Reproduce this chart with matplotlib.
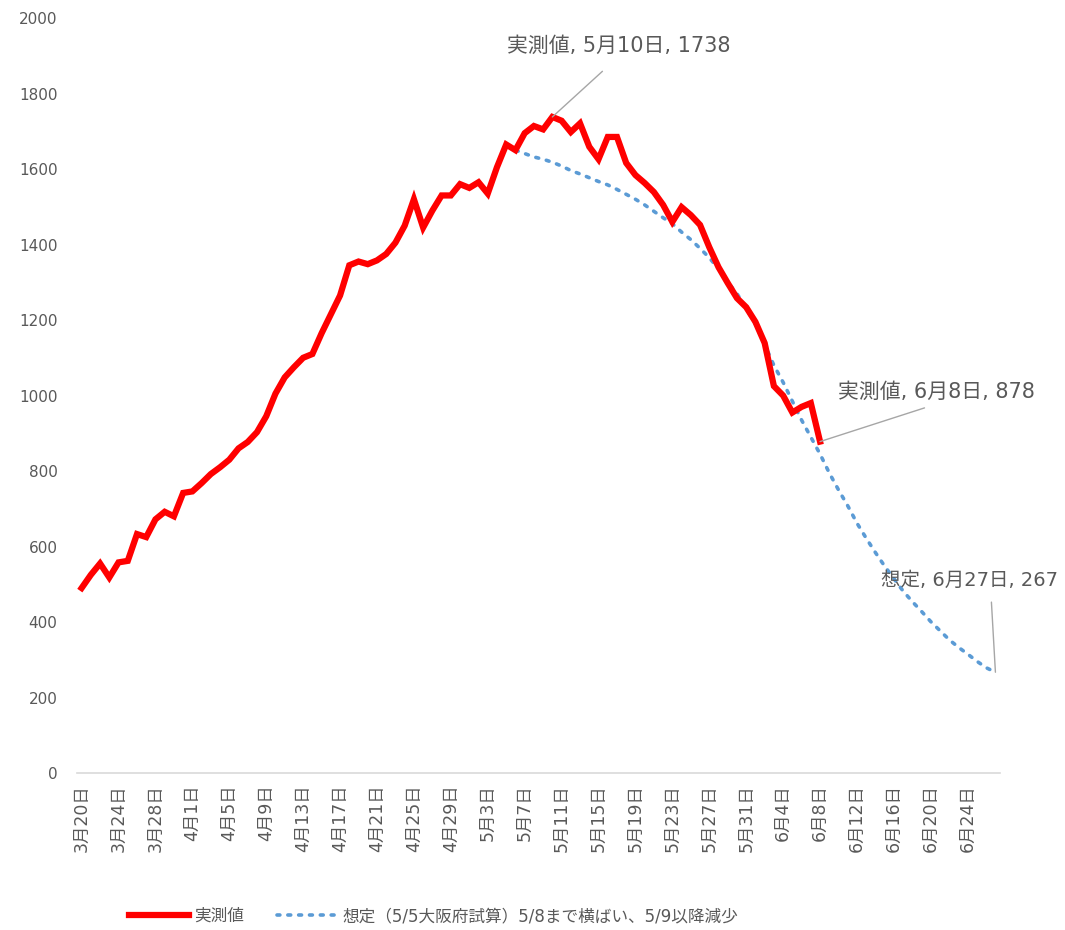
import matplotlib
matplotlib.use("Agg")
import matplotlib.pyplot as plt
import pandas as pd

plt.rcParams['font.family'] = ['DejaVu Sans', 'Noto Sans CJK JP']

# 日付（3/20〜6/27）
dates = pd.date_range('2020-03-20', '2020-06-27', freq='D')
date_labels = [f"{d.month}月{d.day}日" for d in dates]

# 実測値 3/20〜6/8
actual = [490, 525, 555, 518, 558, 562, 633, 625, 672, 692,
          680, 742, 746, 768, 792, 810, 830, 860, 877, 903,
          945, 1005, 1048, 1075, 1100, 1110, 1165, 1215, 1265, 1345,
          1355, 1348, 1358, 1375, 1405, 1450, 1520, 1445, 1490, 1530,
          1530, 1560, 1550, 1565, 1535, 1605, 1665, 1650, 1695, 1714,
          1705, 1738, 1728, 1698, 1721, 1659, 1626, 1685, 1685, 1616,
          1584, 1563, 1539, 1505, 1460, 1499, 1478, 1452, 1393, 1340,
          1298, 1258, 1234, 1195, 1139, 1025, 1000, 955, 970, 980,
          878]

# 想定 5/6〜6/27
scenario_start = 47
scenario = [1650, 1641, 1632, 1626, 1618, 1608, 1596, 1587, 1577, 1567,
            1558, 1546, 1533, 1520, 1505, 1488, 1471, 1455, 1433, 1413,
            1390, 1365, 1336, 1300, 1270, 1230, 1190, 1135, 1080, 1035,
            985, 935, 890, 845, 795, 750, 708, 662, 622, 584,
            548, 515, 482, 454, 428, 401, 377, 353, 333, 315,
            296, 279, 267]

txt_color = '#595959'

fig = plt.figure(figsize=(10.65, 9.3), dpi=100)
ax = fig.add_axes([0.0723, 0.1688, 0.8667, 0.8118])

x_act = list(range(len(actual)))
x_sc = list(range(scenario_start, scenario_start + len(scenario)))

ax.plot(x_sc, scenario, color='#5b9bd5', lw=2.6, linestyle=(0, (0.8, 2.2)),
        dash_capstyle='round', label='想定（5/5大阪府試算）5/8まで横ばい、5/9以降減少', zorder=2)
ax.plot(x_act, actual, color='#ff0000', lw=4.5, solid_joinstyle='miter',
        label='実測値', zorder=3)

ax.set_xlim(-0.5, len(dates) - 0.5)
ax.set_ylim(0, 2000)
ax.set_yticks(range(0, 2001, 200))
ax.set_xticks(range(0, len(dates) - 3, 4))
ax.set_xticklabels(date_labels[0:len(dates) - 3:4], rotation=90)

for s in ['top', 'right', 'left']:
    ax.spines[s].set_visible(False)
ax.spines['bottom'].set_color('#d9d9d9')
ax.spines['bottom'].set_linewidth(1.2)
ax.tick_params(axis='both', length=0, colors=txt_color)
ax.tick_params(axis='y', pad=14, labelsize=11)
ax.tick_params(axis='x', pad=8, labelsize=12.5)

# ラベル
line_kw = dict(arrowstyle='-', color='#a6a6a6', lw=1, shrinkB=0)
peak = 51
ax.annotate(f'実測値, {date_labels[peak]}, {actual[peak]}', xy=(peak, actual[peak]),
            xytext=(58.2, 1925), ha='center', va='center', fontsize=15, color=txt_color,
            arrowprops=dict(relpos=(0.5, 0), shrinkA=13, **line_kw),
            annotation_clip=False)
last = len(actual) - 1
ax.annotate(f'実測値, {date_labels[last]}, {actual[last]}', xy=(last, actual[last]),
            xytext=(81.95, 1009), ha='left', va='center', fontsize=15, color=txt_color,
            arrowprops=dict(relpos=(0.53, 0), shrinkA=7, **line_kw),
            annotation_clip=False)
end = x_sc[-1]
ax.annotate(f'想定, {date_labels[end]}, {scenario[-1]}', xy=(end, scenario[-1]),
            xytext=(86.6, 511), ha='left', va='center', fontsize=14, color=txt_color,
            arrowprops=dict(relpos=(0.62, 0), shrinkA=7, **line_kw),
            annotation_clip=False)

h, l = ax.get_legend_handles_labels()
leg = fig.legend(h[::-1], l[::-1], loc='center', bbox_to_anchor=(0.407, 0.015), ncol=2,
                 frameon=False, fontsize=12, handlelength=3.6, handletextpad=0.3,
                 columnspacing=2.0)
for t in leg.get_texts():
    t.set_color(txt_color)

fig.savefig('out.png', dpi=100)
